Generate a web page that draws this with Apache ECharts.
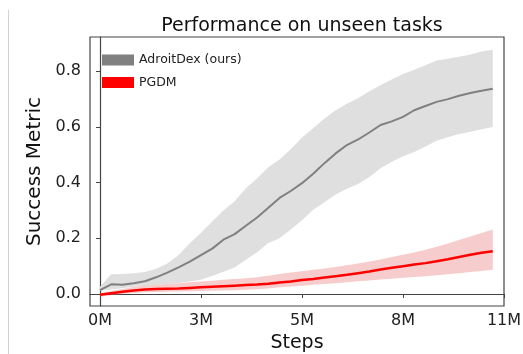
<!DOCTYPE html>
<html>
<head>
<meta charset="utf-8">
<script src="https://cdn.jsdelivr.net/npm/echarts@6/dist/echarts.min.js"></script>
<style>
  html, body { margin: 0; padding: 0; background: #ffffff; }
  #chart { width: 523px; height: 354px; }
</style>
</head>
<body>
<div id="chart"></div>
<script>
// Training steps (millions)
const steps = [0.0, 0.3, 0.6, 0.9, 1.2, 1.5, 1.8, 2.1, 2.4, 2.7, 3.0, 3.3, 3.6, 3.9, 4.2, 4.5, 4.8, 5.1,
               5.4, 5.7, 6.0, 6.3, 6.6, 6.9, 7.2, 7.5, 7.8, 8.1, 8.4, 8.7, 9.0, 9.3, 9.6, 9.9, 10.2, 10.5];

// AdroitDex (ours): mean and shaded range
const adroitMean = [0.014, 0.035, 0.033, 0.039, 0.046, 0.060, 0.077, 0.096, 0.116, 0.140, 0.163, 0.195,
                    0.215, 0.245, 0.275, 0.310, 0.345, 0.370, 0.398, 0.432, 0.470, 0.505, 0.535, 0.555,
                    0.580, 0.607, 0.620, 0.636, 0.660, 0.675, 0.690, 0.700, 0.712, 0.722, 0.730, 0.737];
const adroitUpper = [0.026, 0.071, 0.072, 0.075, 0.079, 0.091, 0.110, 0.140, 0.182, 0.220, 0.260, 0.300,
                     0.333, 0.380, 0.415, 0.455, 0.483, 0.520, 0.562, 0.595, 0.630, 0.660, 0.683, 0.703,
                     0.728, 0.750, 0.770, 0.790, 0.805, 0.822, 0.839, 0.845, 0.852, 0.860, 0.871, 0.877];
const adroitLower = [0.012, 0.016, 0.021, 0.026, 0.030, 0.033, 0.036, 0.040, 0.045, 0.051, 0.065, 0.080,
                     0.095, 0.123, 0.150, 0.183, 0.200, 0.232, 0.265, 0.303, 0.330, 0.357, 0.378, 0.395,
                     0.420, 0.452, 0.475, 0.495, 0.510, 0.530, 0.550, 0.563, 0.575, 0.583, 0.592, 0.600];

// PGDM: mean and shaded range
const pgdmMean = [-0.003, 0.003, 0.008, 0.013, 0.016, 0.018, 0.019, 0.020, 0.022, 0.024, 0.026, 0.028,
                  0.030, 0.032, 0.034, 0.037, 0.041, 0.045, 0.050, 0.054, 0.059, 0.064, 0.069, 0.075,
                  0.081, 0.088, 0.094, 0.100, 0.106, 0.111, 0.118, 0.125, 0.133, 0.141, 0.148, 0.154];
const pgdmUpper = [0.003, 0.011, 0.018, 0.025, 0.030, 0.033, 0.036, 0.039, 0.042, 0.045, 0.048, 0.051,
                   0.054, 0.057, 0.060, 0.066, 0.072, 0.077, 0.082, 0.087, 0.092, 0.097, 0.103, 0.110,
                   0.117, 0.124, 0.133, 0.141, 0.149, 0.159, 0.170, 0.181, 0.194, 0.207, 0.219, 0.232];
const pgdmLower = [-0.010, -0.004, 0.000, 0.004, 0.006, 0.007, 0.008, 0.009, 0.010, 0.011, 0.012, 0.013,
                   0.014, 0.015, 0.017, 0.020, 0.024, 0.027, 0.030, 0.033, 0.036, 0.039, 0.042, 0.046,
                   0.049, 0.052, 0.055, 0.058, 0.061, 0.064, 0.067, 0.071, 0.075, 0.079, 0.083, 0.087];

// Axis ticks
const xTicks = [0, 2.7, 5.4, 8.1, 10.8];
const xTickLabels = ['0M', '3M', '5M', '8M', '11M'];
const yTicks = [0.0, 0.2, 0.4, 0.6, 0.8];
const yTickLabels = ['0.0', '0.2', '0.4', '0.6', '0.8'];

const FONT = 'DejaVu Sans';
const pairs = (ys) => steps.map((x, i) => [x, ys[i]]);

// Filled range between lower and upper curves, drawn as one polygon in data space
function band(lower, upper, fill) {
  return {
    type: 'custom',
    silent: true,
    clip: true,
    z: 1,
    data: [[steps[0], lower[0]]],
    renderItem: function (params, api) {
      const pts = [];
      for (let i = 0; i < steps.length; i++) pts.push(api.coord([steps[i], upper[i]]));
      for (let i = steps.length - 1; i >= 0; i--) pts.push(api.coord([steps[i], lower[i]]));
      return { type: 'polygon', shape: { points: pts }, style: { fill: fill } };
    }
  };
}

const chart = echarts.init(document.getElementById('chart'), null, { renderer: 'canvas' });
chart.setOption({
  animation: false,
  backgroundColor: '#ffffff',
  title: {
    text: 'Performance on unseen tasks',
    left: 297,
    top: 12,
    textAlign: 'center',
    textStyle: { fontFamily: FONT, fontSize: 19, fontWeight: 'normal', color: '#111111' }
  },
  grid: {
    left: 90, right: 19, top: 37, bottom: 48,
    outerBoundsMode: 'none',
    containLabel: false,
    show: true, borderColor: '#444444', borderWidth: 1.2, backgroundColor: 'transparent'
  },
  legend: {
    left: 102, top: 53,
    padding: 0,
    orient: 'vertical',
    icon: 'rect',
    itemWidth: 32, itemHeight: 11,
    itemGap: 8.5,
    textStyle: { fontFamily: FONT, fontSize: 12.5, color: '#222222', lineHeight: 14 },
    data: [
      { name: 'AdroitDex (ours)', itemStyle: { color: '#808080' } },
      { name: 'PGDM', itemStyle: { color: '#ff0000' } }
    ]
  },
  xAxis: {
    type: 'value',
    min: -0.267, max: 10.8,
    name: 'Steps',
    nameLocation: 'middle',
    nameGap: 19,
    nameTextStyle: { fontFamily: FONT, fontSize: 19, color: '#111111' },
    axisLine: { show: true, lineStyle: { color: '#444444', width: 1.2 } },
    axisTick: { show: true, length: 4, customValues: xTicks, lineStyle: { color: '#444444' } },
    axisLabel: {
      customValues: xTicks,
      margin: 7,
      fontFamily: FONT, fontSize: 16, color: '#222222',
      formatter: (v) => xTickLabels[xTicks.findIndex(t => Math.abs(t - v) < 1e-6)]
    },
    splitLine: { show: false }
  },
  yAxis: {
    type: 'value',
    min: -0.043, max: 0.923,
    name: 'Success Metric',
    nameLocation: 'middle',
    nameGap: 39,
    nameTextStyle: { fontFamily: FONT, fontSize: 20, color: '#111111' },
    axisLine: { show: true, lineStyle: { color: '#444444', width: 1.2 } },
    axisTick: { show: true, length: 4, customValues: yTicks, lineStyle: { color: '#444444' } },
    axisLabel: {
      customValues: yTicks,
      margin: 9,
      fontFamily: FONT, fontSize: 16, color: '#222222',
      formatter: (v) => yTickLabels[yTicks.findIndex(t => Math.abs(t - v) < 1e-6)]
    },
    splitLine: { show: false }
  },
  graphic: [{
    type: 'line',
    shape: { x1: 8.5, y1: 10, x2: 8.5, y2: 354 },
    style: { stroke: '#d2d2d2', lineWidth: 1 },
    silent: true
  }],
  series: [
    band(adroitLower, adroitUpper, '#dfdfdf'),
    band(pgdmLower, pgdmUpper, 'rgba(235, 120, 120, 0.38)'),
    {
      name: 'AdroitDex (ours)',
      type: 'line',
      data: pairs(adroitMean),
      showSymbol: false,
      z: 3,
      itemStyle: { color: '#808080' },
      lineStyle: { color: '#808080', width: 2 }
    },
    {
      name: 'PGDM',
      type: 'line',
      data: pairs(pgdmMean),
      showSymbol: false,
      z: 4,
      itemStyle: { color: '#ff0000' },
      lineStyle: { color: '#ff0000', width: 2.5 }
    }
  ]
});
</script>
</body>
</html>
